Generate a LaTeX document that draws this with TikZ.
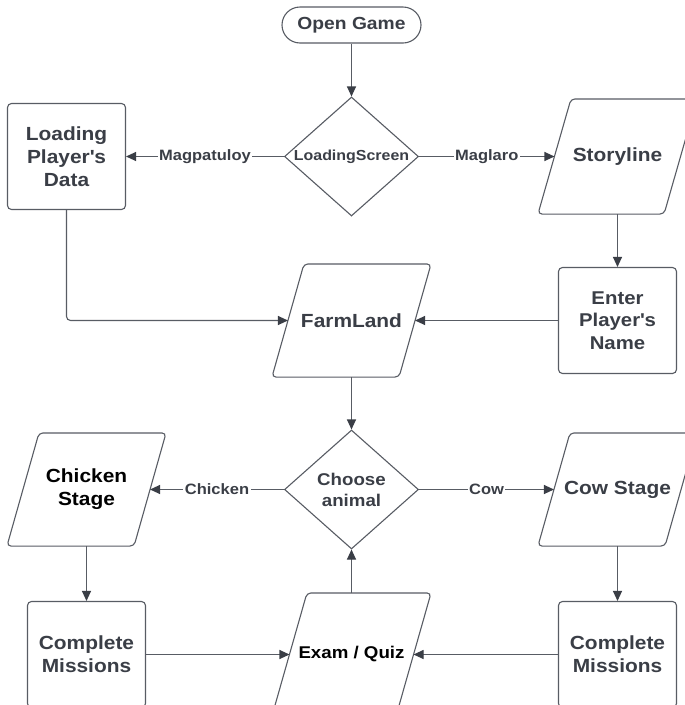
\documentclass[tikz,border=0pt]{standalone}
\usepackage{fontspec}
\setmainfont{Liberation Sans}[FakeStretch=1.1]
\usetikzlibrary{shapes.geometric,arrows.meta}
\definecolor{inkgray}{RGB}{58,62,70}
\definecolor{linegray}{RGB}{88,92,100}
\newcommand{\txtsize}[2]{\fontsize{#1}{#2}\selectfont}
\newcommand{\apos}{\textquotesingle}
% slanted outline round a node: #1 node name, #2 horizontal lean
\newcommand{\slantbox}[2]{%
  \draw[rounded corners=4pt] ([xshift=#2]#1.north west) -- (#1.north east)
    -- ([xshift=-#2]#1.south east) -- (#1.south west) -- cycle;}

\begin{document}
\begin{tikzpicture}[
    x=1pt, y=-1pt,
    line width=1.1pt, color=linegray,
    every node/.style={align=center, text=inkgray, inner sep=2pt, font=\bfseries\txtsize{19}{23}},
    terminal/.style={draw, rounded corners=18pt, minimum width=139pt, minimum height=36pt, font=\bfseries\txtsize{17.5}{20}},
    process/.style={draw, rounded corners=4pt, minimum width=118pt, minimum height=106pt},
    inout/.style={minimum width=158pt, minimum height=112pt},
    decision/.style={draw, diamond, inner sep=0pt, minimum width=134pt, minimum height=119pt},
    flow/.style={-{Triangle[length=10pt,width=9pt,color=inkgray]}},
    edgelabel/.style={fill=white, inner sep=1.5pt, font=\bfseries\txtsize{15}{18}}
]
\path[fill=white, use as bounding box] (0,0) rectangle (685,705);

% nodes
\node[terminal] (open) at (351.5,25) {Open Game};
\node[decision, label={[font=\bfseries\txtsize{14.5}{17}]center:LoadingScreen}] (loading) at (351.5,156.5) {};
\node[process] (loaddata) at (66.5,156.5) {Loading\\Player\apos s\\Data};
\node[inout, minimum height=114pt] (story) at (617.5,156.5) {Storyline};
\node[inout] (farm) at (351.5,320.5) {FarmLand};
\node[process, font=\bfseries\txtsize{18.5}{22.5}] (entername) at (617.5,320.5) {Enter\\Player\apos s\\Name};
\node[decision, label={[font=\bfseries\txtsize{17}{21}]center:Choose\\animal}] (choose) at (351.5,489.5) {};
\node[inout, text=black] (chicken) at (86.5,489.5) {Chicken\\Stage};
\node[inout] (cow) at (617.5,489.5) {Cow Stage};
\node[process] (missionsleft) at (86.5,654.5) {Complete\\Missions};
\node[inout, text=black, minimum height=122pt, font=\bfseries\txtsize{17}{20}] (exam) at (351.5,654.5) {Exam / Quiz};
\node[process] (missionsright) at (617.5,654.5) {Complete\\Missions};

% parallelogram outlines
\slantbox{story}{33pt}
\slantbox{farm}{32pt}
\slantbox{chicken}{32pt}
\slantbox{cow}{32pt}
\slantbox{exam}{35pt}

% connectors
\draw[flow] (open.south) -- (loading.north);
\draw[flow] (loading.west) -- node[edgelabel]{Magpatuloy} (loaddata.east);
\draw[flow] (loading.east) -- node[edgelabel]{Maglaro} ([xshift=16.5pt]story.west);
\draw[flow] (story.south) -- (entername.north);
\draw[flow, rounded corners=4pt] (loaddata.south) |- ([xshift=16pt]farm.west);
\draw[flow] (entername.west) -- ([xshift=-16pt]farm.east);
\draw[flow] (farm.south) -- (choose.north);
\draw[flow] (choose.west) -- node[edgelabel]{Chicken} ([xshift=-16pt]chicken.east);
\draw[flow] (choose.east) -- node[edgelabel]{Cow} ([xshift=16pt]cow.west);
\draw[flow] (chicken.south) -- (missionsleft.north);
\draw[flow] (cow.south) -- (missionsright.north);
\draw[flow] (missionsleft.east) -- ([xshift=17.5pt]exam.west);
\draw[flow] (missionsright.west) -- ([xshift=-17.5pt]exam.east);
\draw[flow] (exam.north) -- (choose.south);
\end{tikzpicture}
\end{document}
